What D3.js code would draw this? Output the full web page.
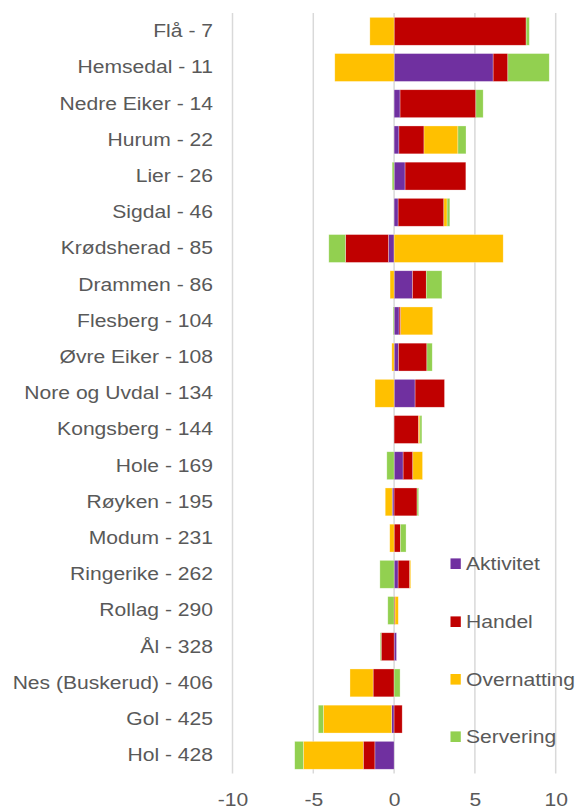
<!DOCTYPE html>
<html>
<head>
<meta charset="utf-8">
<script src="https://cdn.jsdelivr.net/npm/d3@7"></script>
<style>
  body { margin: 0; background: #fff; }
  text { font-family: "Liberation Sans", Arial, sans-serif; fill: #595959; }
</style>
</head>
<body>
<div id="chart"></div>
<script>
// chart data
var categories = ["Flå - 7", "Hemsedal - 11", "Nedre Eiker - 14", "Hurum - 22", "Lier - 26",
    "Sigdal - 46", "Krødsherad - 85", "Drammen - 86", "Flesberg - 104", "Øvre Eiker - 108",
    "Nore og Uvdal - 134", "Kongsberg - 144", "Hole - 169", "Røyken - 195", "Modum - 231",
    "Ringerike - 262", "Rollag - 290", "Ål - 328", "Nes (Buskerud) - 406", "Gol - 425", "Hol - 428"];
var seriesNames = ["Aktivitet", "Handel", "Overnatting", "Servering"];
var aktivitet   = [0, 6.13, 0.37, 0.3, 0.68, 0.25, -0.35, 1.14, 0.31, 0.27, 1.3, 0, 0.56, -0.12, 0, 0.25, 0, 0.15, 0, -0.15, -1.19];
var handel      = [8.17, 0.91, 4.69, 1.55, 3.76, 2.83, -2.66, 0.85, 0.1, 1.76, 1.82, 1.52, 0.6, 1.42, 0.39, 0.72, 0.06, -0.8, -1.3, 0.5, -0.72];
var overnatting = [-1.5, -3.67, 0, 2.1, 0, 0.2, 6.75, -0.25, 1.98, -0.14, -1.18, 0.08, 0.6, -0.43, -0.27, 0.06, 0.2, 0, -1.43, -4.23, -3.71];
var servering   = [0.2, 2.56, 0.45, 0.5, -0.12, 0.17, -1.03, 0.97, -0.06, 0.33, 0, 0.12, -0.45, 0.1, 0.35, -0.88, -0.39, -0.06, 0.37, -0.31, -0.53];
var colors = ["#7030A0", "#C00000", "#FFC000", "#92D050"];
var xTicks = [-10, -5, 0, 5, 10];

var W = 576, H = 808;
var fontSize = 18.5;
var stretch = "scale(1.14,1)"; // the original text is a bit wider than Liberation Sans

// build rows for d3.stack
var rows = categories.map(function (c, i) {
    return {
        name: c,
        Aktivitet: aktivitet[i],
        Handel: handel[i],
        Overnatting: overnatting[i],
        Servering: servering[i]
    };
});

var stacked = d3.stack()
    .keys(seriesNames)
    .offset(d3.stackOffsetDiverging)(rows);

var x = d3.scaleLinear()
    .domain([-10, 10])
    .range([232.5, 555.7]);

var y = d3.scaleBand()
    .domain(categories)
    .range([13.2, 773.4])
    .paddingInner(0.23)
    .paddingOuter(0.115);

var color = d3.scaleOrdinal()
    .domain(seriesNames)
    .range(colors);

var svg = d3.select("#chart")
    .append("svg")
    .attr("width", W)
    .attr("height", H);

// vertical gridlines
svg.append("g")
    .selectAll("line")
    .data(xTicks)
    .enter()
    .append("line")
    .attr("x1", d => x(d))
    .attr("x2", d => x(d))
    .attr("y1", 13)
    .attr("y2", 773.4)
    .attr("stroke", "#d9d9d9")
    .attr("stroke-width", 1.5);

// bars
svg.append("g")
    .selectAll("g")
    .data(stacked)
    .enter()
    .append("g")
    .attr("fill", d => color(d.key))
    .selectAll("rect")
    .data(d => d)
    .enter()
    .append("rect")
    .attr("x", d => x(Math.min(d[0], d[1])))
    .attr("width", d => Math.abs(x(d[1]) - x(d[0])))
    .attr("y", d => y(d.data.name))
    .attr("height", y.bandwidth())
    .attr("stroke", "#fff")
    .attr("stroke-opacity", 0.5)
    .attr("stroke-width", 0.6);

// x axis tick labels
var xAxis = d3.axisBottom(x)
    .tickValues(xTicks)
    .tickSize(0)
    .tickPadding(0)
    .tickFormat(d => d < 0 ? "-" + Math.abs(d) : String(d));

var gx = svg.append("g")
    .attr("transform", "translate(0,805.7)")
    .call(xAxis);
gx.select(".domain").remove();
gx.selectAll("text")
    .attr("font-size", fontSize)
    .attr("fill", "#595959")
    .attr("y", 0)
    .attr("dy", 0)
    .attr("transform", stretch);

// category labels
var yAxis = d3.axisLeft(y)
    .tickSize(0)
    .tickPadding(0);

var gy = svg.append("g")
    .attr("transform", "translate(213,0)")
    .call(yAxis);
gy.select(".domain").remove();
gy.selectAll("text")
    .attr("font-size", fontSize)
    .attr("fill", "#595959")
    .attr("transform", stretch);

// legend
var legendY = [563.7, 621.7, 679.3, 736.7];
var legend = svg.append("g")
    .selectAll("g")
    .data(seriesNames)
    .enter()
    .append("g")
    .attr("transform", (d, i) => "translate(450.5," + legendY[i] + ")");

legend.append("rect")
    .attr("x", 0)
    .attr("y", -5.3)
    .attr("width", 10.3)
    .attr("height", 10.6)
    .attr("fill", d => color(d));

legend.append("g")
    .attr("transform", "translate(15.5,0)")
    .append("text")
    .attr("dy", "0.35em")
    .attr("font-size", fontSize)
    .attr("transform", stretch)
    .text(d => d);
</script>
</body>
</html>
